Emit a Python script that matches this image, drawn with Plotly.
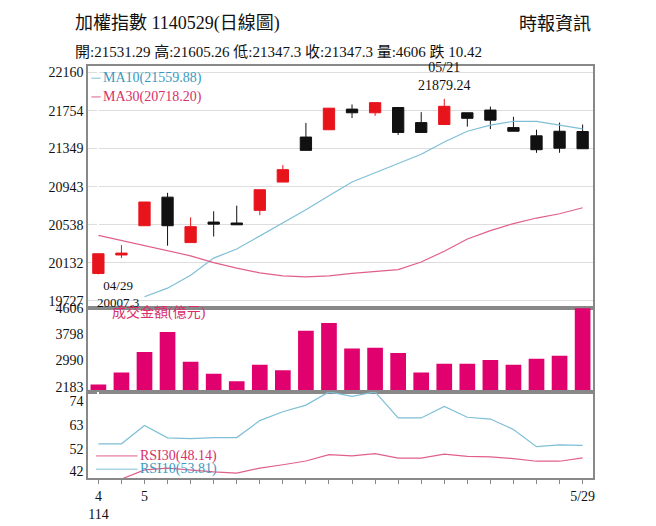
import plotly.graph_objects as go
from plotly.subplots import make_subplots

# trading days 04/29 .. 05/29
days = ['04/29', '04/30', '05/02', '05/05', '05/06', '05/07', '05/08', '05/09', '05/12', '05/13', '05/14',
        '05/15', '05/16', '05/19', '05/20', '05/21', '05/22', '05/23', '05/26', '05/27', '05/28', '05/29']
opens = [20017, 20214, 20526, 20831, 20346, 20565, 20555, 20690, 20992, 21472, 21550,
         21770, 21731, 21787, 21626, 21606, 21731, 21760, 21573, 21485, 21534, 21531.29]
highs = [20227, 20319, 20779, 20877, 20615, 20680, 20740, 20910, 21173, 21623, 21780,
         21820, 21839, 21787, 21738, 21879.24, 21731, 21797, 21688, 21550, 21626, 21605.26]
lows = [20007.3, 20181, 20526, 20313, 20346, 20411, 20536, 20638, 20992, 21330, 21550,
        21675, 21698, 21495, 21521, 21606, 21583, 21557, 21534, 21304, 21304, 21347.3]
closes = [20227, 20234, 20779, 20526, 20516, 20543, 20536, 20910, 21124, 21330, 21780,
          21731, 21839, 21521, 21521, 21800, 21672, 21652, 21534, 21337, 21353, 21347.3]
ma10 = [None, None, 19768, 19860, 19998, 20181, 20277, 20418, 20550, 20697, 20845,
        20993, 21091, 21189, 21288, 21419, 21534, 21600, 21639, 21639, 21600, 21559.88]
ma30 = [20424, 20369, 20319, 20264, 20205, 20132, 20073, 20024, 19991, 19981, 19991,
        20017, 20040, 20057, 20139, 20254, 20385, 20474, 20549, 20608, 20654, 20718.20]
volume = [2249, 2622, 3253, 3873, 2953, 2580, 2352, 2859, 2693, 3914, 4152,
          3365, 3386, 3221, 2622, 2890, 2890, 3004, 2859, 3045, 3138, 4606]
rsi10 = [54.5, 54.5, 62.8, 57.2, 56.8, 57.3, 57.3, 65, 69, 72, 78,
         76, 78, 66.2, 66.2, 71.4, 66.5, 65.7, 61, 53.2, 54, 53.81]
rsi30 = [None, 38.5, 42.7, 43.5, 42.5, 41.8, 41.2, 43.5, 45, 46.7, 49.6,
         49, 50, 48, 48, 49.8, 48.8, 48.6, 47.8, 46.6, 46.6, 48.14]
price_ticks = [19727, 20132, 20538, 20943, 21349, 21754, 22160]
vol_ticks = [2183, 2990, 3798, 4606]
rsi_ticks = [42, 52, 63, 74]

x = list(range(len(days)))
FONT = "Liberation Serif, Noto Sans CJK TC"
PINK = "#e0006e"
MA10C = "#7fbfd6"
MA30C = "#e0608a"

fig = make_subplots(rows=3, cols=1, shared_xaxes=True, vertical_spacing=0,
                    row_heights=[0.587, 0.204, 0.209])

fig.add_trace(go.Candlestick(
    x=x, open=opens, high=highs, low=lows, close=closes,
    increasing=dict(line=dict(color="#e8141c", width=1), fillcolor="#e8141c"),
    decreasing=dict(line=dict(color="#111111", width=1), fillcolor="#111111"),
    whiskerwidth=0, showlegend=False), row=1, col=1)
fig.add_trace(go.Scatter(x=x, y=ma10, mode='lines', line=dict(color=MA10C, width=1.2),
                         showlegend=False), row=1, col=1)
fig.add_trace(go.Scatter(x=x, y=ma30, mode='lines', line=dict(color=MA30C, width=1.2),
                         showlegend=False), row=1, col=1)
fig.add_trace(go.Bar(x=x, y=volume, marker=dict(color=PINK, line=dict(width=0)),
                     width=0.68, showlegend=False), row=2, col=1)
fig.add_trace(go.Scatter(x=x, y=rsi10, mode='lines', line=dict(color=MA10C, width=1.2),
                         showlegend=False), row=3, col=1)
fig.add_trace(go.Scatter(x=x, y=rsi30, mode='lines', line=dict(color=MA30C, width=1.2),
                         showlegend=False), row=3, col=1)

axis_common = dict(showline=True, linecolor="#888", mirror=True, linewidth=1.5,
                   tickfont=dict(family=FONT, size=14, color="#111"), ticks="", tickformat="d")
fig.update_xaxes(range=[-0.45, 21.45], showgrid=False, rangeslider_visible=False, **axis_common)
fig.update_xaxes(tickvals=x, ticktext=['4<br>114', '', '5'] + [''] * 18 + ['5/29'],
                 ticks="outside", ticklen=4, tickcolor="#888", row=3, col=1)
fig.update_yaxes(range=[19650, 22230], tickvals=price_ticks, showgrid=True,
                 gridcolor="#dddddd", row=1, col=1, **axis_common)
fig.update_yaxes(range=[2020, 4620], tickvals=vol_ticks, showgrid=False, row=2, col=1, **axis_common)
fig.update_yaxes(range=[39, 78], tickvals=rsi_ticks, showgrid=False, row=3, col=1, **axis_common)

anns = [
    dict(x=-0.03, y=1.0, xref="paper", yref="paper", xanchor="left", yanchor="bottom", yshift=30,
         text="加權指數 1140529(日線圖)", font=dict(size=18)),
    dict(x=1.0, y=1.0, xref="paper", yref="paper", xanchor="right", yanchor="bottom", yshift=30,
         text="時報資訊", font=dict(size=18)),
    dict(x=-0.03, y=1.0, xref="paper", yref="paper", xanchor="left", yanchor="bottom", yshift=4,
         text="開:21531.29 高:21605.26 低:21347.3 收:21347.3 量:4606 跌 10.42", font=dict(size=15)),
    dict(x=15, y=21879.24, xref="x", yref="y", yanchor="bottom", yshift=4,
         text="05/21<br>21879.24", font=dict(size=14)),
    dict(x=0, y=20007.3, xref="x", yref="y", xanchor="left", yanchor="top", yshift=-2, xshift=-3,
         text="04/29<br>20007.3", font=dict(size=13)),
    dict(x=0.1, y=22100, xref="x", yref="y", xanchor="left", text="MA10(21559.88)",
         font=dict(size=14, color="#3a9ac0")),
    dict(x=0.1, y=21900, xref="x", yref="y", xanchor="left", text="MA30(20718.20)",
         font=dict(size=14, color="#d8306a")),
    dict(x=0.5, y=4480, xref="x", yref="y2", xanchor="left", text="成交金額(億元)",
         font=dict(size=14, color="#d8306a")),
    dict(x=1.7, y=49, xref="x", yref="y3", xanchor="left", text="RSI30(48.14)",
         font=dict(size=14, color="#d8306a")),
    dict(x=1.7, y=43, xref="x", yref="y3", xanchor="left", text="RSI10(53.81)",
         font=dict(size=14, color="#3a9ac0")),
]
for a in anns:
    a["showarrow"] = False
    a["font"].setdefault("color", "#111")
    a["font"]["family"] = FONT
    fig.add_annotation(**a)

# short legend line stubs next to the legend texts
for yv, col, yr in [(22100, MA10C, "y"), (21900, MA30C, "y"), (49, MA30C, "y3"), (43, MA10C, "y3")]:
    fig.add_shape(type="line", xref="x", yref=yr, x0=-0.1 if yr == "y3" else -0.3,
                  x1=1.7 if yr == "y3" else 0.1, y0=yv, y1=yv, line=dict(color=col, width=1))

fig.update_layout(width=656, height=526, margin=dict(l=80, r=71, t=58, b=56),
                  plot_bgcolor="white", paper_bgcolor="white", bargap=0.3,
                  font=dict(family=FONT, color="#111"))
fig.write_html("out.html")
